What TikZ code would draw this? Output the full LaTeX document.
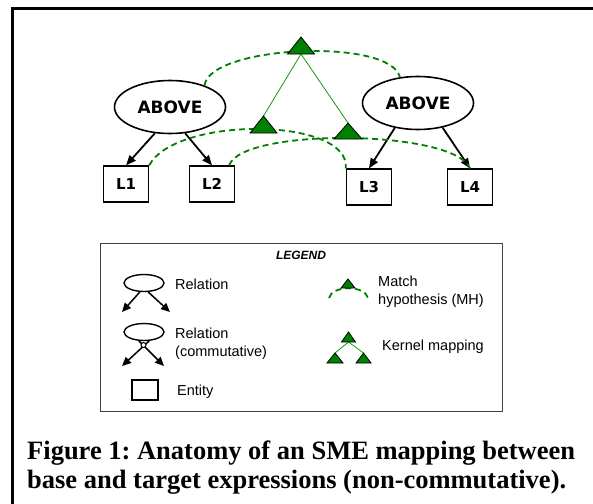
\documentclass[tikz,border=0pt]{standalone}
\usepackage{fontspec}
\setmainfont{Liberation Serif}
\newfontfamily\lblfont{DejaVu Sans}
\newfontfamily\legfont{Liberation Sans}
\usetikzlibrary{arrows.meta,shapes.geometric}
\definecolor{mhgreen}{RGB}{0,128,0}
\definecolor{kgreen}{RGB}{20,150,20}
\tikzset{
  rel/.style={ellipse, draw, line width=1.6pt, minimum width=111pt, minimum height=53pt, inner sep=0pt,
    font=\lblfont\bfseries\fontsize{17}{17}\selectfont},
  ent/.style={draw, line width=1.3pt, minimum width=45pt, minimum height=36pt, inner sep=0pt,
    font=\lblfont\bfseries\fontsize{15}{15}\selectfont},
  smallrel/.style={ellipse, draw, line width=1.4pt, minimum width=40pt, minimum height=17pt, inner sep=0pt},
  relarrow/.style={line width=1.8pt, -{Triangle[length=10pt,width=8pt]}},
  legarrow/.style={line width=1.5pt, -{Triangle[length=9pt,width=8pt]}},
  mh/.style={mhgreen, line width=1.8pt, dash pattern=on 6pt off 4pt},
  kern/.style={kgreen, line width=0.8pt},
  tri/.style={fill=mhgreen, draw=black, line width=0.8pt},
  legtext/.style={font=\legfont\fontsize{14.5}{17.5}\selectfont, anchor=west, align=left, inner sep=0pt},
}
% green triangle: base centre, half base, height
\newcommand{\mhtri}[3]{\filldraw[tri] (#1) ++(-#2,0) -- ++(#2,-#3) -- ++(#2,#3) -- cycle;}
\frenchspacing
\begin{document}
\begin{tikzpicture}[x=1pt,y=-1pt]
\useasboundingbox (0,0) rectangle (593,503);
\draw[line width=3pt] (12,506) -- (12,9) -- (596,9);
% base and target
\node[rel] (abvB) at (170,107) {ABOVE};
\node[rel] (abvT) at (418,103) {ABOVE};
\node[ent] (L1) at (126,184) {L1};
\node[ent] (L2) at (212,184) {L2};
\node[ent] (L3) at (369,187) {L3};
\node[ent] (L4) at (470,187) {L4};
\draw[relarrow] (abvB.240) -- (L1.north);
\draw[relarrow] (abvB.300) -- (L2.north);
\draw[relarrow] (abvT.227) -- (L3.north);
\draw[relarrow] (abvT.315) -- (L4.north);
% match hypotheses
\coordinate (mhTop) at (301,54);
\coordinate (mhLeft) at (263.5,133);
\coordinate (mhRight) at (348,139);
\draw[mh] (abvB.32) .. controls +(5,-40) and +(-10,-40) .. (abvT.125);
\draw[mh] (L1.north east) .. controls +(27,-50) and +(5,-51) .. (L3.north west);
\draw[mh] ([xshift=-6pt]L2.north east) .. controls +(13,-38) and +(-16,-39) .. (L4.north);
\draw[kern] (mhTop) -- ([yshift=17pt]mhLeft);
\draw[kern] (mhTop) -- ([yshift=16pt]mhRight);
\mhtri{mhTop}{13.5}{17}
\mhtri{mhLeft}{13.5}{17}
\mhtri{mhRight}{14}{16}
% legend
\draw[line width=1pt, draw=black!75] (100,243) rectangle (502,411);
\node[font=\legfont\bfseries\itshape\fontsize{12}{12}\selectfont] (legHead) at (301,255) {LEGEND};
\node[smallrel] (legRel) at (144,283) {};
\coordinate (relEndL) at (122,312);
\coordinate (relEndR) at (170,312);
\draw[legarrow] (legRel.245) -- (relEndL);
\draw[legarrow] (legRel.295) -- (relEndR);
\node[legtext] (txtRel) at (175,284) {Relation};
\node[smallrel] (legCom) at (144,332) {};
\coordinate (comEndL) at (122,366);
\coordinate (comEndR) at (164,366);
\draw[legarrow] (legCom.300) -- (comEndL);
\draw[legarrow] (legCom.240) -- (comEndR);
\node[circle, draw, fill=white, line width=1pt, inner sep=0pt, minimum size=5pt] (pivot) at (143.5,345) {};
\node[legtext] (txtCom) at (175,343.5) {Relation\\(commutative)};
\node[draw, line width=1.2pt, minimum width=26pt, minimum height=20pt, inner sep=0pt] (legEnt) at (145,390) {};
\node[legtext] (txtEnt) at (177,392) {Entity};
\coordinate (arcA) at (329,298);
\coordinate (arcB) at (368,298);
\coordinate (legMH) at (348,288);
\draw[mh] (arcA) .. controls +(3,-13) and +(-3,-13) .. (arcB);
\mhtri{legMH}{7}{9}
\node[legtext] (txtMH) at (378,291.5) {Match\\hypothesis (MH)};
\coordinate (kTop) at (348.5,342);
\coordinate (kLeft) at (335,363);
\coordinate (kRight) at (363.5,363);
\draw[kern] (kTop) -- ([yshift=10pt]kLeft);
\draw[kern] (kTop) -- ([yshift=10pt]kRight);
\mhtri{kTop}{7}{10}
\mhtri{kLeft}{8}{10}
\mhtri{kRight}{7.5}{10}
\node[legtext] (txtKern) at (382,347) {Kernel mapping};
% caption
\node[anchor=base west, inner sep=0pt, font=\bfseries\fontsize{26.5}{30}\selectfont] (capA) at (27,459)
  {Figure 1: Anatomy of an SME mapping between};
\node[anchor=base west, inner sep=0pt, font=\bfseries\fontsize{26.5}{30}\selectfont] (capB) at (27,488)
  {base and target expressions (non-commutative).};
\end{tikzpicture}
\end{document}
